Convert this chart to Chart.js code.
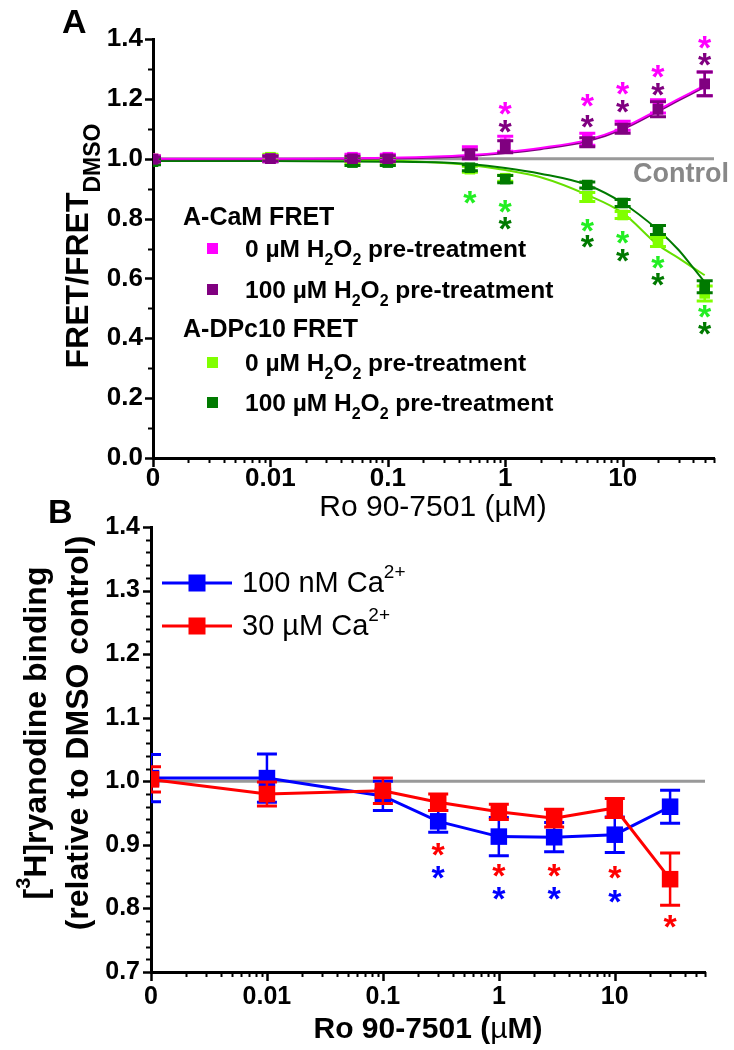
<!DOCTYPE html>
<html><head><meta charset="utf-8">
<script src="https://cdn.jsdelivr.net/npm/chart.js@4.4.1/dist/chart.umd.min.js"></script>
<style>
html,body{margin:0;padding:0;background:#fff;}
#wrap{position:relative;width:734px;height:1050px;overflow:hidden;background:#fff;}
canvas{position:absolute;left:0;}
#cA{top:0;} #cB{top:490px;}
</style></head><body>
<div id="wrap"><canvas id="cA" width="734" height="535"></canvas><canvas id="cB" width="734" height="560"></canvas></div>
<script>
// ---------------- Panel A data ----------------
// Ro 90-7501 concentration (µM); the "0" (DMSO) point is placed at 0.001 on the log axis
const concA = [0.001, 0.01, 0.05, 0.1, 0.5, 1, 5, 10, 20, 50];
const camH0 = [1.000, 1.000, 1.005, 1.005, 1.020, 1.050, 1.065, 1.110, 1.175, 1.250];
const camH0Err = [0.010, 0.010, 0.010, 0.010, 0.020, 0.025, 0.020, 0.015, 0.022, 0.040];
const camH100 = [0.998, 1.000, 1.000, 1.000, 1.015, 1.040, 1.055, 1.100, 1.165, 1.250];
const camH100Err = [0.008, 0.008, 0.008, 0.010, 0.015, 0.020, 0.015, 0.015, 0.025, 0.040];
const dpH0 = [1.000, 1.005, 0.995, 0.990, 0.965, 0.935, 0.872, 0.812, 0.722, 0.550];
const dpH0Err = [0.010, 0.010, 0.010, 0.010, 0.010, 0.010, 0.015, 0.012, 0.015, 0.025];
const dpH100 = [0.990, 1.000, 0.987, 0.987, 0.970, 0.932, 0.912, 0.852, 0.762, 0.572];
const dpH100Err = [0.010, 0.010, 0.010, 0.010, 0.010, 0.012, 0.010, 0.012, 0.015, 0.020];
// fitted curves
const fitConcA = [0.001, 0.01, 0.1, 0.3, 0.5, 1, 2, 5, 10, 20, 30, 40, 50];
const camH0Fit = [1.000, 1.000, 1.003, 1.008, 1.012, 1.022, 1.036, 1.063, 1.103, 1.163, 1.200, 1.225, 1.245];
const camH100Fit = [0.998, 0.998, 1.001, 1.005, 1.009, 1.019, 1.032, 1.058, 1.098, 1.158, 1.195, 1.220, 1.240];
const dpH0Fit = [0.998, 0.998, 0.994, 0.986, 0.979, 0.962, 0.938, 0.879, 0.819, 0.712, 0.668, 0.635, 0.611];
const dpH100Fit = [0.992, 0.992, 0.990, 0.987, 0.982, 0.969, 0.950, 0.912, 0.852, 0.762, 0.695, 0.635, 0.588];
const controlConc = [0.001, 60];
const controlVal = [1.0, 1.0];
// significance asterisks [conc, y]
const starsCamH0 = [[1, 1.169], [5, 1.196], [10, 1.236], [20, 1.290], [50, 1.387]];
const starsCamH100 = [[1, 1.106], [5, 1.123], [10, 1.173], [20, 1.230], [50, 1.330]];
const starsDpH0 = [[0.5, 0.869], [1, 0.839], [5, 0.778], [10, 0.738], [20, 0.652], [50, 0.488]];
const starsDpH100 = [[1, 0.785], [5, 0.722], [10, 0.678], [20, 0.595], [50, 0.434]];
const xTicksA = [0.001, 0.01, 0.1, 1, 10];
const xTickLabelsA = ['0', '0.01', '0.1', '1', '10'];
const yTicksA = [0, 0.2, 0.4, 0.6, 0.8, 1.0, 1.2, 1.4];
const yTickLabelsA = ['0.0', '0.2', '0.4', '0.6', '0.8', '1.0', '1.2', '1.4'];
const yMinorA = [0.1, 0.3, 0.5, 0.7, 0.9, 1.1, 1.3];

// ---------------- Panel B data ----------------
const concB = [0.001, 0.01, 0.1, 0.3, 1, 3, 10, 30];
const ca100nM = [1.005, 1.005, 0.977, 0.937, 0.913, 0.912, 0.916, 0.960];
const ca100nMErr = [0.037, 0.038, 0.023, 0.017, 0.030, 0.023, 0.028, 0.026];
const ca30uM = [1.003, 0.980, 0.985, 0.967, 0.952, 0.942, 0.958, 0.846];
const ca30uMErr = [0.020, 0.019, 0.020, 0.013, 0.012, 0.014, 0.015, 0.041];
const starsRedB = [[0.3, 0.892], [1, 0.860], [3, 0.860], [10, 0.856], [30, 0.779]];
const starsBlueB = [[0.3, 0.856], [1, 0.824], [3, 0.824], [10, 0.818]];
const xTicksB = [0.001, 0.01, 0.1, 1, 10];
const xTickLabelsB = ['0', '0.01', '0.1', '1', '10'];
const yTicksB = [0.7, 0.8, 0.9, 1.0, 1.1, 1.2, 1.3, 1.4];
const yTickLabelsB = ['0.7', '0.8', '0.9', '1.0', '1.1', '1.2', '1.3', '1.4'];

const FF = '"Liberation Sans", Arial, Helvetica, sans-serif';
const C = {magenta:'#FF00FF', purple:'#800080', lgreen:'#80FF00', lgreenLine:'#66E000', lgreenStar:'#22EE22',
           dgreen:'#007A00', gray:'#999999', blue:'#0000FF', red:'#FF0000'};

function pts(xs, ys){ return xs.map((x,i)=>({x:x, y:ys[i]})); }
function logMinor(decades, max){
  const out=[]; decades.forEach(d=>{ for(let k=2;k<=9;k++){ const v=k*d; if(v<=max*1.0001) out.push(v);} }); return out;
}
function drawRich(ctx, x, y, parts){
  let cx=x;
  parts.forEach(p=>{ ctx.font=p[1]; ctx.fillText(p[0], cx, y+(p[2]||0)); cx+=ctx.measureText(p[0]).width; });
  return cx-x;
}
function richWidth(ctx, parts){ let w=0; parts.forEach(p=>{ctx.font=p[1]; w+=ctx.measureText(p[0]).width;}); return w; }
function drawStar(ctx, x, y, color, size){
  ctx.save(); ctx.font='bold '+size+'px '+FF; ctx.fillStyle=color; ctx.textAlign='center'; ctx.textBaseline='alphabetic';
  const m=ctx.measureText('*');
  ctx.fillText('*', x, y + (m.actualBoundingBoxAscent - m.actualBoundingBoxDescent)/2);
  ctx.restore();
}

const errPlugin = {
  id:'errbars',
  beforeDatasetDraw(chart, args){
    const ds = chart.data.datasets[args.index];
    if(!ds.errors) return;
    const ctx=chart.ctx, xs=chart.scales.x, ys=chart.scales.y, a=chart.chartArea;
    ctx.save();
    ctx.beginPath(); ctx.rect(a.left, a.top-30, a.right-a.left, a.bottom-a.top+30); ctx.clip();
    ctx.strokeStyle=ds.errColor; ctx.lineCap='butt';
    const cw=ds.capHalf;
    ds.data.forEach((p,i)=>{
      const e=ds.errors[i]; const x=xs.getPixelForValue(p.x);
      const y1=ys.getPixelForValue(p.y+e), y2=ys.getPixelForValue(p.y-e);
      ctx.beginPath(); ctx.lineWidth=ds.errWidth-0.5; ctx.moveTo(x,y1); ctx.lineTo(x,y2); ctx.stroke();
      ctx.beginPath(); ctx.lineWidth=ds.errWidth;
      ctx.moveTo(x-cw,y1); ctx.lineTo(x+cw,y1); ctx.moveTo(x-cw,y2); ctx.lineTo(x+cw,y2); ctx.stroke();
    });
    ctx.restore();
  }
};

function tickPlugin(o){
  return { id:'axisTicks', afterDraw(chart){
    const ctx=chart.ctx, xs=chart.scales.x, ys=chart.scales.y, a=chart.chartArea;
    ctx.save(); ctx.strokeStyle='#000';
    const draw=(vals,len,w,isX)=>{
      ctx.lineWidth=w; ctx.beginPath();
      vals.forEach(v=>{
        if(isX){ const x=Math.round(xs.getPixelForValue(v))+0.5; ctx.moveTo(x,a.bottom); ctx.lineTo(x,a.bottom+len); }
        else { const y=Math.round(ys.getPixelForValue(v))+0.5; ctx.moveTo(a.left,y); ctx.lineTo(a.left-len,y); }
      }); ctx.stroke();
    };
    draw(o.xMajor,9,2.5,true); draw(o.xMinor,5,2,true);
    draw(o.yMajor,8,2.5,false); draw(o.yMinor,5,2,false);
    ctx.restore();
  }};
}

function starPlugin(list){
  return { id:'stars', afterDatasetsDraw(chart){
    const ctx=chart.ctx, xs=chart.scales.x, ys=chart.scales.y;
    list.forEach(g=>{ g.pts.forEach(p=>drawStar(ctx, xs.getPixelForValue(p[0]), ys.getPixelForValue(p[1]), g.color, 34)); });
  }};
}

// ---------------- Chart A ----------------
const decoA = { id:'decoA', afterDraw(chart){
  const ctx=chart.ctx; ctx.save(); ctx.fillStyle='#000'; ctx.textBaseline='alphabetic'; ctx.textAlign='left';
  ctx.font='bold 34px '+FF; ctx.fillText('A', 62, 33);
  const tparts=[['FRET/FRET','bold 32px '+FF,0],['DMSO','bold 23px '+FF,12]];
  const tw=richWidth(ctx,tparts);
  ctx.save(); ctx.translate(88, 246); ctx.rotate(-Math.PI/2); drawRich(ctx,-tw/2,0,tparts); ctx.restore();
  ctx.font='30px '+FF; ctx.textAlign='center'; ctx.fillText('Ro 90-7501 (\u00B5M)', 433, 516); ctx.textAlign='left';
  ctx.fillStyle='#888888'; ctx.font='bold 27px '+FF; ctx.fillText('Control', 633, 182);
  ctx.fillStyle='#000';
  ctx.font='bold 25px '+FF; ctx.fillText('A-CaM FRET', 183, 225); ctx.fillText('A-DPc10 FRET', 183, 337);
  const rows=[[C.magenta,248,'0'],[C.purple,289,'100'],[C.lgreen,362,'0'],[C.dgreen,402,'100']];
  rows.forEach(r=>{
    ctx.fillStyle=r[0]; ctx.fillRect(207,r[1]-5,11,11);
    ctx.fillStyle='#000';
    drawRich(ctx,245,r[1]+9,[[r[2]+' \u00B5M H','bold 24.5px '+FF,0],['2','bold 16px '+FF,8],['O','bold 24.5px '+FF,0],['2','bold 16px '+FF,8],[' pre-treatment','bold 24.5px '+FF,0]]);
  });
  ctx.restore();
}};

new Chart(document.getElementById('cA'), {
  type:'scatter',
  data:{ datasets:[
    {data:pts(controlConc,controlVal), showLine:true, borderColor:C.gray, borderWidth:3, pointRadius:0, order:30},
    {data:pts(fitConcA,dpH0Fit), showLine:true, borderColor:C.lgreenLine, borderWidth:2, pointRadius:0, cubicInterpolationMode:'monotone', order:21},
    {data:pts(fitConcA,dpH100Fit), showLine:true, borderColor:C.dgreen, borderWidth:2, pointRadius:0, cubicInterpolationMode:'monotone', order:20},
    {data:pts(fitConcA,camH100Fit), showLine:true, borderColor:C.purple, borderWidth:2, pointRadius:0, cubicInterpolationMode:'monotone', order:19},
    {data:pts(fitConcA,camH0Fit), showLine:true, borderColor:C.magenta, borderWidth:2, pointRadius:0, cubicInterpolationMode:'monotone', order:18},
    {data:pts(concA,dpH0), showLine:false, pointStyle:'rect', pointRadius:7.5, pointBackgroundColor:C.lgreen, pointBorderWidth:0, errors:dpH0Err, errColor:C.lgreen, errWidth:3, capHalf:8, order:4},
    {data:pts(concA,dpH100), showLine:false, pointStyle:'rect', pointRadius:7.5, pointBackgroundColor:C.dgreen, pointBorderWidth:0, errors:dpH100Err, errColor:C.dgreen, errWidth:3, capHalf:8, order:3},
    {data:pts(concA,camH0), showLine:false, pointStyle:'rect', pointRadius:7.5, pointBackgroundColor:C.magenta, pointBorderWidth:0, errors:camH0Err, errColor:C.magenta, errWidth:3, capHalf:8, order:2},
    {data:pts(concA,camH100), showLine:false, pointStyle:'rect', pointRadius:7.5, pointBackgroundColor:C.purple, pointBorderWidth:0, errors:camH100Err, errColor:C.purple, errWidth:3, capHalf:8, order:1}
  ]},
  options:{
    responsive:false, animation:false, events:[],
    layout:{padding:{top:39, right:20, left:0, bottom:0}},
    plugins:{legend:{display:false}, tooltip:{enabled:false}},
    scales:{
      x:{type:'logarithmic', min:0.001, max:60,
        afterFit:s=>{s.height=77;},
        afterBuildTicks:s=>{s.ticks=xTicksA.map(v=>({value:v}));},
        ticks:{autoSkip:false, maxRotation:0, minRotation:0, padding:5, color:'#000', font:{family:FF, size:26, weight:'bold'}, callback:(v,i)=>xTickLabelsA[i]},
        grid:{display:false, drawTicks:false}, border:{display:true, color:'#000', width:3}},
      y:{type:'linear', min:0, max:1.4,
        afterFit:s=>{s.width=153;},
        afterBuildTicks:s=>{s.ticks=yTicksA.map(v=>({value:v}));},
        ticks:{autoSkip:false, padding:10, color:'#000', font:{family:FF, size:26, weight:'bold'}, callback:(v,i)=>yTickLabelsA[i]},
        grid:{display:false, drawTicks:false}, border:{display:true, color:'#000', width:3}}
    }
  },
  plugins:[errPlugin, tickPlugin({xMajor:xTicksA, xMinor:logMinor(xTicksA,60), yMajor:yTicksA, yMinor:yMinorA}),
           starPlugin([{pts:starsCamH0,color:C.magenta},{pts:starsCamH100,color:C.purple},{pts:starsDpH0,color:C.lgreenStar},{pts:starsDpH100,color:C.dgreen}]), decoA]
});

// ---------------- Chart B ----------------
const yMinorB = []; yTicksB.forEach((v,i)=>{ if(i<yTicksB.length-1){ for(let k=1;k<=4;k++) yMinorB.push(v+k*0.02);} });
const decoB = { id:'decoB', afterDraw(chart){
  const ctx=chart.ctx; ctx.save(); ctx.fillStyle='#000'; ctx.textBaseline='alphabetic'; ctx.textAlign='left';
  const oy=490;
  ctx.font='bold 34px '+FF; ctx.fillText('B', 48, 523-oy);
  const l1=[['[','bold 32px '+FF,0],['3','bold 20px '+FF,-16],['H]ryanodine binding','bold 32px '+FF,0]];
  const l2=[['(relative to DMSO control)','bold 32px '+FF,0]];
  const w1=richWidth(ctx,l1), w2=richWidth(ctx,l2);
  ctx.save(); ctx.translate(46, 733-oy); ctx.rotate(-Math.PI/2); drawRich(ctx,-w1/2,0,l1); ctx.restore();
  ctx.save(); ctx.translate(88, 733-oy); ctx.rotate(-Math.PI/2); drawRich(ctx,-w2/2,0,l2); ctx.restore();
  const xt=[['Ro 90-7501 (','bold 30px '+FF,0],['\u00B5','30px '+FF,0],['M)','bold 30px '+FF,0]];
  const xw=richWidth(ctx,xt); drawRich(ctx,428-xw/2,1038-oy,xt);
  const rows=[[C.blue,583,'100 nM Ca'],[C.red,626,'30 \u00B5M Ca']];
  rows.forEach(r=>{
    const y=r[1]-oy;
    ctx.strokeStyle=r[0]; ctx.lineWidth=3; ctx.beginPath(); ctx.moveTo(162,y); ctx.lineTo(232,y); ctx.stroke();
    ctx.fillStyle=r[0]; ctx.fillRect(197-8.5,y-8.5,17,17);
    ctx.fillStyle='#000';
    drawRich(ctx,242,y+9,[[r[2],'29px '+FF,0],['2+','19px '+FF,-14]]);
  });
  ctx.restore();
}};

new Chart(document.getElementById('cB'), {
  type:'scatter',
  data:{ datasets:[
    {data:pts(controlConc,controlVal), showLine:true, borderColor:C.gray, borderWidth:3, pointRadius:0, order:30},
    {data:pts(concB,ca100nM), showLine:true, borderColor:C.blue, borderWidth:3, pointStyle:'rect', pointRadius:11.7, pointBackgroundColor:C.blue, pointBorderWidth:0, errors:ca100nMErr, errColor:C.blue, errWidth:3, capHalf:10, order:2},
    {data:pts(concB,ca30uM), showLine:true, borderColor:C.red, borderWidth:3, pointStyle:'rect', pointRadius:11.7, pointBackgroundColor:C.red, pointBorderWidth:0, errors:ca30uMErr, errColor:C.red, errWidth:3, capHalf:10, order:1}
  ]},
  options:{
    responsive:false, animation:false, events:[],
    layout:{padding:{top:37, right:29, left:0, bottom:0}},
    plugins:{legend:{display:false}, tooltip:{enabled:false}},
    scales:{
      x:{type:'logarithmic', min:0.001, max:60,
        afterFit:s=>{s.height=78;},
        afterBuildTicks:s=>{s.ticks=xTicksB.map(v=>({value:v}));},
        ticks:{autoSkip:false, maxRotation:0, minRotation:0, padding:10, color:'#000', font:{family:FF, size:25, weight:'bold'}, callback:(v,i)=>xTickLabelsB[i]},
        grid:{display:false, drawTicks:false}, border:{display:true, color:'#000', width:3}},
      y:{type:'linear', min:0.7, max:1.4,
        afterFit:s=>{s.width=151;},
        afterBuildTicks:s=>{s.ticks=yTicksB.map(v=>({value:v}));},
        ticks:{autoSkip:false, padding:11, color:'#000', font:{family:FF, size:25, weight:'bold'}, callback:(v,i)=>yTickLabelsB[i]},
        grid:{display:false, drawTicks:false}, border:{display:true, color:'#000', width:3}}
    }
  },
  plugins:[errPlugin, tickPlugin({xMajor:xTicksB, xMinor:logMinor(xTicksB,60), yMajor:yTicksB, yMinor:yMinorB}),
           starPlugin([{pts:starsRedB,color:C.red},{pts:starsBlueB,color:C.blue}]), decoB]
});
</script>
</body></html>
